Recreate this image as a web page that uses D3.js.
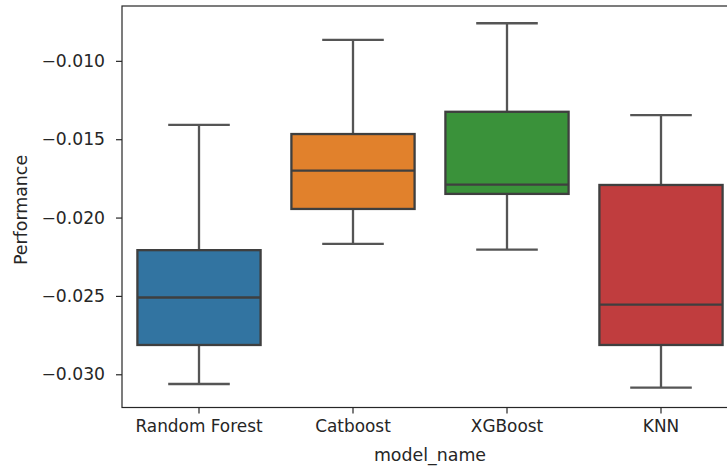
<!DOCTYPE html>
<html>
<head>
<meta charset="utf-8">
<script src="https://cdn.jsdelivr.net/npm/d3@7"></script>
<style>
  body { margin: 0; background: #fff; }
  svg { display: block; font-family: "DejaVu Sans", sans-serif; }
</style>
</head>
<body>
<div class="svg-container"></div>
<script>
// box stats
const models = ["Random Forest", "Catboost", "XGBoost", "KNN"];
const whiskerLow  = [-0.03062, -0.02168, -0.02204, -0.03085];
const q1          = [-0.02813, -0.01945, -0.01849, -0.02813];
const medians     = [-0.02510, -0.01701, -0.01790, -0.02556];
const q3          = [-0.02208, -0.01467, -0.01325, -0.01792];
const whiskerHigh = [-0.01408, -0.00866, -0.00760, -0.01346];
const colors = ["#3274a1", "#e1812c", "#3a923a", "#c03d3e"];
const yTicks = [-0.030, -0.025, -0.020, -0.015, -0.010];

var w = 727, h = 471;
const padL = 122, padR = 738, padT = 6, padB = 407.5;

const svg = d3.select(".svg-container")
              .append("svg")
              .attr("width", w)
              .attr("height", h);

const xScale = d3.scaleBand()
                 .domain(models)
                 .range([padL, padR])
                 .paddingInner(0.2)
                 .paddingOuter(0.1);

const yScale = d3.scaleLinear()
                 .domain([-0.03212, -0.00650])
                 .range([padB, padT]);

const bw = xScale.bandwidth();

// axes
const xAxis = d3.axisBottom(xScale).tickSize(6).tickPadding(7);
const yAxis = d3.axisLeft(yScale).tickValues(yTicks).tickSize(6).tickPadding(11)
                .tickFormat(d => d3.format(".3f")(d).replace("-", "\u2212"));

svg.append("g")
   .attr("transform", "translate(0," + padB + ")")
   .call(xAxis)
   .attr("font-family", "DejaVu Sans")
   .attr("font-size", "16.9px")
   .call(g => g.select(".domain").remove())
   .selectAll("text")
   .attr("fill", "#262626");

svg.append("g")
   .attr("transform", "translate(" + padL + ",0)")
   .call(yAxis)
   .attr("font-family", "DejaVu Sans")
   .attr("font-size", "17.2px")
   .call(g => g.select(".domain").remove())
   .selectAll("text")
   .attr("fill", "#262626");

svg.selectAll(".tick line").attr("stroke", "#262626").attr("stroke-width", 1.2);

// frame
svg.append("rect")
   .attr("x", padL)
   .attr("y", padT)
   .attr("width", padR - padL)
   .attr("height", padB - padT)
   .attr("fill", "none")
   .attr("stroke", "#262626")
   .attr("stroke-width", 1.2);

// boxes
const boxes = svg.selectAll("g.box")
   .data(models)
   .enter()
   .append("g")
   .attr("class", "box");

const cx = d => xScale(d) + bw / 2;
const lineColor = "#555555";

boxes.append("line")
   .attr("x1", cx).attr("x2", cx)
   .attr("y1", (d, i) => yScale(q3[i]))
   .attr("y2", (d, i) => yScale(whiskerHigh[i]))
   .attr("stroke", lineColor).attr("stroke-width", 2.3);

boxes.append("line")
   .attr("x1", cx).attr("x2", cx)
   .attr("y1", (d, i) => yScale(q1[i]))
   .attr("y2", (d, i) => yScale(whiskerLow[i]))
   .attr("stroke", lineColor).attr("stroke-width", 2.3);

boxes.append("line")
   .attr("x1", d => cx(d) - bw / 4).attr("x2", d => cx(d) + bw / 4)
   .attr("y1", (d, i) => yScale(whiskerHigh[i]))
   .attr("y2", (d, i) => yScale(whiskerHigh[i]))
   .attr("stroke", lineColor).attr("stroke-width", 2.3);

boxes.append("line")
   .attr("x1", d => cx(d) - bw / 4).attr("x2", d => cx(d) + bw / 4)
   .attr("y1", (d, i) => yScale(whiskerLow[i]))
   .attr("y2", (d, i) => yScale(whiskerLow[i]))
   .attr("stroke", lineColor).attr("stroke-width", 2.3);

boxes.append("rect")
   .attr("x", d => xScale(d))
   .attr("width", bw)
   .attr("y", (d, i) => yScale(q3[i]))
   .attr("height", (d, i) => yScale(q1[i]) - yScale(q3[i]))
   .attr("fill", (d, i) => colors[i])
   .attr("stroke", "#3f3f3f").attr("stroke-width", 2.3);

boxes.append("line")
   .attr("x1", d => xScale(d)).attr("x2", d => xScale(d) + bw)
   .attr("y1", (d, i) => yScale(medians[i]))
   .attr("y2", (d, i) => yScale(medians[i]))
   .attr("stroke", "#3f3f3f").attr("stroke-width", 2.3);

// axis labels
svg.append("text")
   .attr("x", (padL + padR) / 2)
   .attr("y", 461)
   .attr("text-anchor", "middle")
   .attr("font-size", "17.4px")
   .attr("fill", "#262626")
   .text("model_name");

svg.append("text")
   .attr("transform", "translate(27,210) rotate(-90)")
   .attr("text-anchor", "middle")
   .attr("font-size", "17.4px")
   .attr("fill", "#262626")
   .text("Performance");
</script>
</body>
</html>
